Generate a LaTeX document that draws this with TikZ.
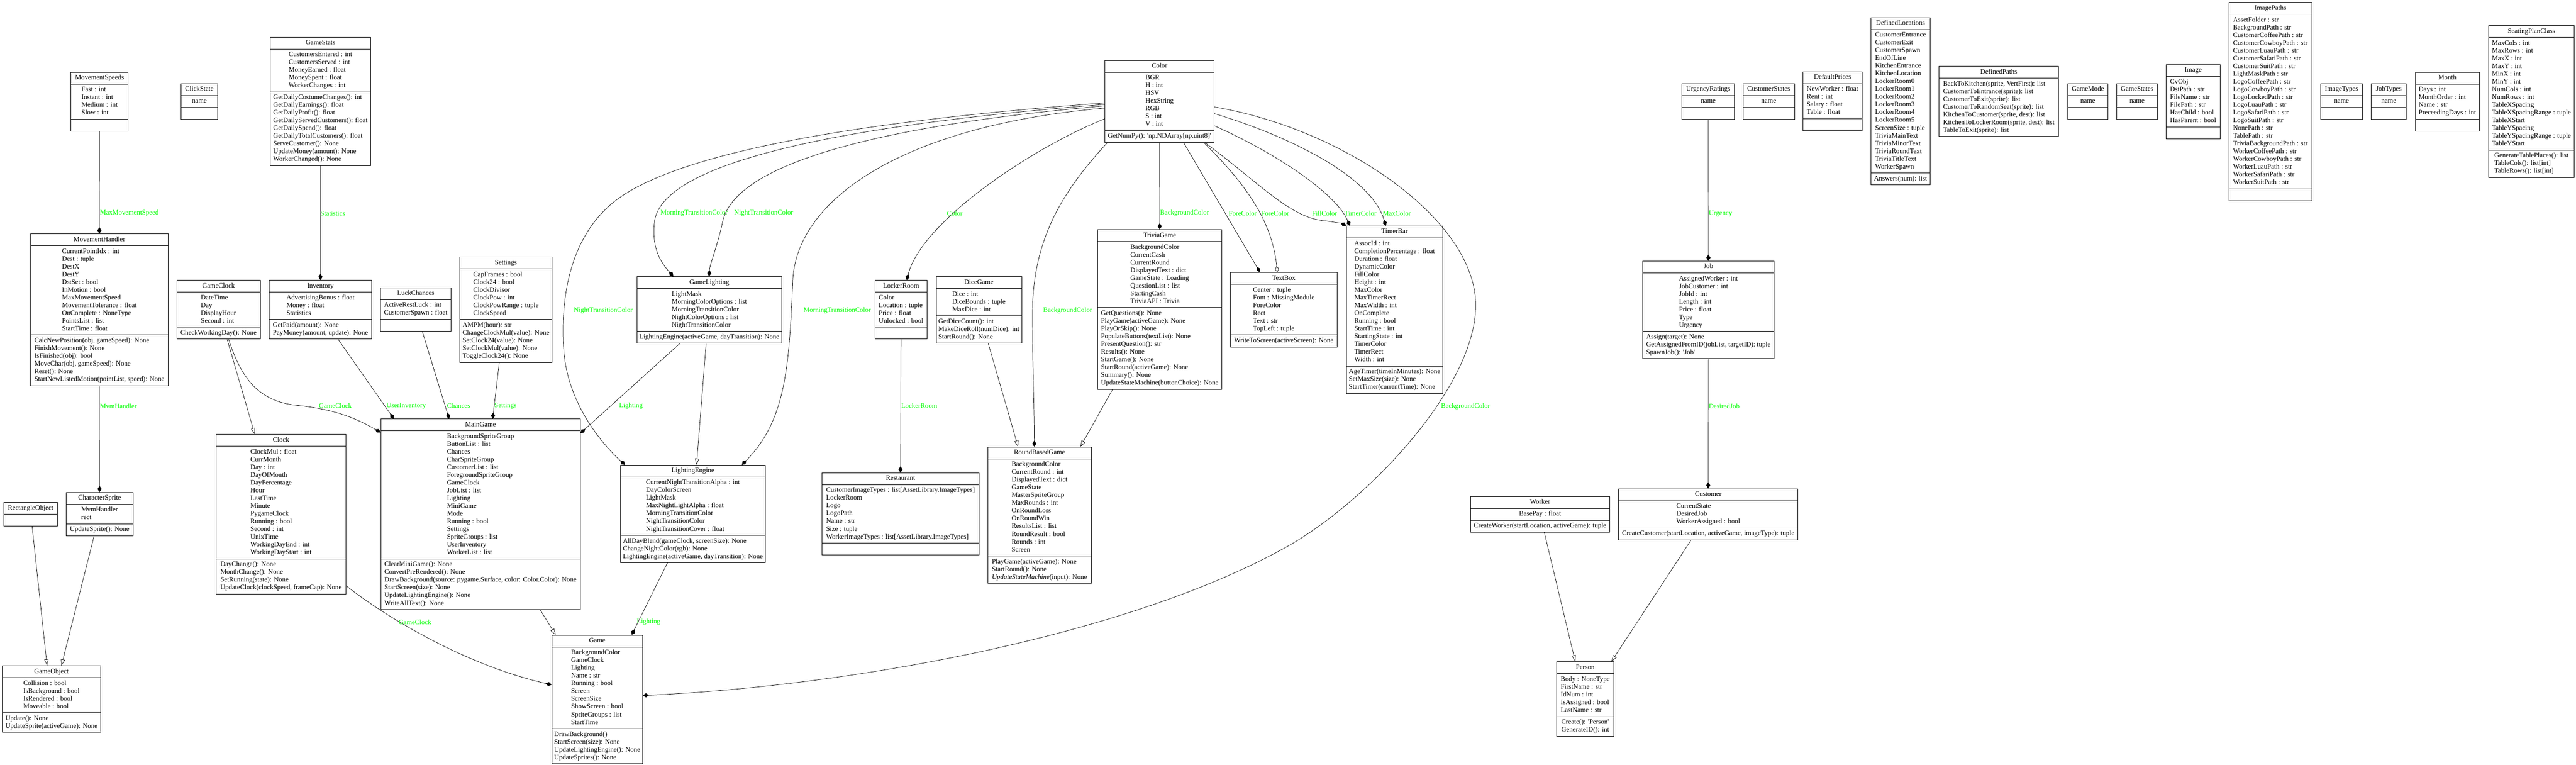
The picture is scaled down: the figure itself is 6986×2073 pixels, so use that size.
\documentclass[tikz,border=0pt]{standalone}
\usepackage{fontspec}
\setmainfont{Liberation Serif}
\usetikzlibrary{arrows.meta,calc,shapes.multipart}
\definecolor{labelgreen}{RGB}{0,255,0}
\newcommand\classfont{\fontsize{18.5}{21}\selectfont}
\newcommand\hdr[1]{\classfont\strut#1}
\newcommand\members[1]{\classfont\begin{tabular}{@{}l@{}}#1\end{tabular}}
\newcommand\emptypart{\classfont\strut}
\tikzset{
  umlclass/.style={draw,line width=1.2pt,rectangle split,rectangle split parts=3,
    anchor=north west,inner xsep=2pt,inner ysep=5pt},
  umlshort/.style={umlclass,rectangle split parts=2},
  edgelabel/.style={anchor=west,inner sep=0pt,text=labelgreen,font=\classfont},
  composition/.style={-{Diamond[length=17pt,width=11pt]},line width=1pt},
  aggregation/.style={-{Diamond[open,length=17pt,width=11pt]},line width=1pt},
  inherit/.style={-{Triangle[open,length=17pt,width=11pt]},line width=1pt}
}

\begin{document}
\begin{tikzpicture}[x=1pt,y=-1pt]
  \useasboundingbox (0,0) rectangle (6986,2073);
  % movement and sprites
  \node[umlclass,minimum width=155pt] (MovementSpeeds) at (192,195)
    {\hdr{MovementSpeeds}\nodepart{two}\members{Fast : int\\Instant : int\\Medium : int\\Slow : int}\nodepart{three}\emptypart};
  \node[umlclass,minimum width=98pt] (ClickState) at (491,226)
    {\hdr{ClickState}\nodepart{two}\members{name}\nodepart{three}\emptypart};
  \node[umlclass,minimum width=372pt] (MovementHandler) at (83,633)
    {\hdr{MovementHandler}\nodepart{two}\members{CurrentPointIdx : int\\Dest : tuple\\DestX\\DestY\\DstSet : bool\\InMotion : bool\\MaxMovementSpeed\\MovementTolerance : float\\OnComplete : NoneType\\PointsList : list\\StartTime : float}
     \nodepart{three}\members{CalcNewPosition(obj, gameSpeed): None\\FinishMovement(): None\\IsFinished(obj): bool\\MoveChar(obj, gameSpeed): None\\Reset(): None\\StartNewListedMotion(pointList, speed): None}};
  \node[umlclass,minimum width=181pt] (CharacterSprite) at (179,1334)
    {\hdr{CharacterSprite}\nodepart{two}\members{MvmHandler\\rect}\nodepart{three}\members{UpdateSprite(): None}};
  \node[umlshort,minimum width=145pt] (RectangleObject) at (10,1361)
    {\hdr{RectangleObject}\nodepart{two}\emptypart};
  \node[umlclass,minimum width=268pt] (GameObject) at (5,1804)
    {\hdr{GameObject}\nodepart{two}\members{Collision : bool\\IsBackground : bool\\IsRendered : bool\\Moveable : bool}
     \nodepart{three}\members{Update(): None\\UpdateSprite(activeGame): None}};
  % clock, stats and main game
  \node[umlclass,minimum width=226pt] (GameClock) at (479,759)
    {\hdr{GameClock}\nodepart{two}\members{DateTime\\Day\\DisplayHour\\Second : int}\nodepart{three}\members{CheckWorkingDay(): None}};
  \node[umlclass,minimum width=273pt] (GameStats) at (732,100)
    {\hdr{GameStats}\nodepart{two}\members{CustomersEntered : int\\CustomersServed : int\\MoneyEarned : float\\MoneySpent : float\\WorkerChanges : int}
     \nodepart{three}\members{GetDailyCostumeChanges(): int\\GetDailyEarnings(): float\\GetDailyProfit(): float\\GetDailyServedCustomers(): float\\GetDailySpend(): float\\GetDailyTotalCustomers(): float\\ServeCustomer(): None\\UpdateMoney(amount): None\\WorkerChanged(): None}};
  \node[umlclass,minimum width=277pt] (Inventory) at (730,759)
    {\hdr{Inventory}\nodepart{two}\members{AdvertisingBonus : float\\Money : float\\Statistics}
     \nodepart{three}\members{GetPaid(amount): None\\PayMoney(amount, update): None}};
  \node[umlclass,minimum width=192pt] (LuckChances) at (1031,779)
    {\hdr{LuckChances}\nodepart{two}\members{ActiveRestLuck : int\\CustomerSpawn : float}\nodepart{three}\emptypart};
  \node[umlclass,minimum width=251pt] (Settings) at (1246,696)
    {\hdr{Settings}\nodepart{two}\members{CapFrames : bool\\Clock24 : bool\\ClockDivisor\\ClockPow : int\\ClockPowRange : tuple\\ClockSpeed}
     \nodepart{three}\members{AMPM(hour): str\\ChangeClockMul(value): None\\SetClock24(value): None\\SetClockMul(value): None\\ToggleClock24(): None}};
  \node[umlclass,minimum width=353pt] (Clock) at (585,1177)
    {\hdr{Clock}\nodepart{two}\members{ClockMul : float\\CurrMonth\\Day : int\\DayOfMonth\\DayPercentage\\Hour\\LastTime\\Minute\\PygameClock\\Running : bool\\Second : int\\UnixTime\\WorkingDayEnd : int\\WorkingDayStart : int}
     \nodepart{three}\members{DayChange(): None\\MonthChange(): None\\SetRunning(state): None\\UpdateClock(clockSpeed, frameCap): None}};
  \node[umlclass,minimum width=541pt] (MainGame) at (1032,1135)
    {\hdr{MainGame}\nodepart{two}\members{BackgroundSpriteGroup\\ButtonList : list\\Chances\\CharSpriteGroup\\CustomerList : list\\ForegroundSpriteGroup\\GameClock\\JobList : list\\Lighting\\MiniGame\\Mode\\Running : bool\\Settings\\SpriteGroups : list\\UserInventory\\WorkerList : list}
     \nodepart{three}\members{ClearMiniGame(): None\\ConvertPreRendered(): None\\DrawBackground(source: pygame.Surface, color: Color.Color): None\\StartScreen(size): None\\UpdateLightingEngine(): None\\WriteAllText(): None}};
  \node[umlclass,minimum width=246pt] (Game) at (1496,1721)
    {\hdr{Game}\nodepart{two}\members{BackgroundColor\\GameClock\\Lighting\\Name : str\\Running : bool\\Screen\\ScreenSize\\ShowScreen : bool\\SpriteGroups : list\\StartTime}
     \nodepart{three}\members{DrawBackground()\\StartScreen(size): None\\UpdateLightingEngine(): None\\UpdateSprites(): None}};
  % lighting, rooms and mini games
  \node[umlclass,minimum width=392pt] (GameLighting) at (1727,749)
    {\hdr{GameLighting}\nodepart{two}\members{LightMask\\MorningColorOptions : list\\MorningTransitionColor\\NightColorOptions : list\\NightTransitionColor}
     \nodepart{three}\members{LightingEngine(activeGame, dayTransition): None}};
  \node[umlclass,minimum width=393pt] (LightingEngine) at (1682,1260)
    {\hdr{LightingEngine}\nodepart{two}\members{CurrentNightTransitionAlpha : int\\DayColorScreen\\LightMask\\MaxNightLightAlpha : float\\MorningTransitionColor\\NightTransitionColor\\NightTransitionCover : float}
     \nodepart{three}\members{AllDayBlend(gameClock, screenSize): None\\ChangeNightColor(rgb): None\\LightingEngine(activeGame, dayTransition): None}};
  \node[umlclass,minimum width=142pt] (LockerRoom) at (2372,759)
    {\hdr{LockerRoom}\nodepart{two}\members{Color\\Location : tuple\\Price : float\\Unlocked : bool}\nodepart{three}\emptypart};
  \node[umlclass,minimum width=232pt] (DiceGame) at (2538,749)
    {\hdr{DiceGame}\nodepart{two}\members{Dice : int\\DiceBounds : tuple\\MaxDice : int}
     \nodepart{three}\members{GetDiceCount(): int\\MakeDiceRoll(numDice): int\\StartRound(): None}};
  \node[umlclass,minimum width=427pt] (Restaurant) at (2228,1281)
    {\hdr{Restaurant}\nodepart{two}\members{CustomerImageTypes : list[AssetLibrary.ImageTypes]\\LockerRoom\\Logo\\LogoPath\\Name : str\\Size : tuple\\WorkerImageTypes : list[AssetLibrary.ImageTypes]}
     \nodepart{three}\emptypart};
  \node[umlclass,minimum width=296pt] (Color) at (2996,163)
    {\hdr{Color}\nodepart{two}\members{BGR\\H : int\\HSV\\HexString\\RGB\\S : int\\V : int}
     \nodepart{three}\members{GetNumPy(): \textquotesingle np.NDArray[np.uint8]\textquotesingle}};
  \node[umlclass,minimum width=337pt] (TriviaGame) at (2976,622)
    {\hdr{TriviaGame}\nodepart{two}\members{BackgroundColor\\CurrentCash\\CurrentRound\\DisplayedText : dict\\GameState : Loading\\QuestionList : list\\StartingCash\\TriviaAPI : Trivia}
     \nodepart{three}\members{GetQuestions(): None\\PlayGame(activeGame): None\\PlayOrSkip(): None\\PopulateButtons(textList): None\\PresentQuestion(): str\\Results(): None\\StartGame(): None\\StartRound(activeGame): None\\Summary(): None\\UpdateStateMachine(buttonChoice): None}};
  \node[umlclass,minimum width=290pt] (TextBox) at (3336,738)
    {\hdr{TextBox}\nodepart{two}\members{Center : tuple\\Font : MissingModule\\ForeColor\\Rect\\Text : str\\TopLeft : tuple}
     \nodepart{three}\members{WriteToScreen(activeScreen): None}};
  \node[umlclass,minimum width=261pt] (TimerBar) at (3651,612)
    {\hdr{TimerBar}\nodepart{two}\members{AssocId : int\\CompletionPercentage : float\\Duration : float\\DynamicColor\\FillColor\\Height : int\\MaxColor\\MaxTimerRect\\MaxWidth : int\\OnComplete\\Running : bool\\StartTime : int\\StartingState : int\\TimerColor\\TimerRect\\Width : int}
     \nodepart{three}\members{AgeTimer(timeInMinutes): None\\SetMaxSize(size): None\\StartTimer(currentTime): None}};
  \node[umlclass,minimum width=281pt] (RoundBasedGame) at (2678,1211)
    {\hdr{RoundBasedGame}\nodepart{two}\members{BackgroundColor\\CurrentRound : int\\DisplayedText : dict\\GameState\\MasterSpriteGroup\\MaxRounds : int\\OnRoundLoss\\OnRoundWin\\ResultsList : list\\RoundResult : bool\\Rounds : int\\Screen}
     \nodepart{three}\members{PlayGame(activeGame): None\\StartRound(): None\\\textit{UpdateStateMachine}(input): None}};
  % enums and constants
  \node[umlclass,minimum width=142pt] (UrgencyRatings) at (4561,226)
    {\hdr{UrgencyRatings}\nodepart{two}\members{name}\nodepart{three}\emptypart};
  \node[umlclass,minimum width=140pt] (CustomerStates) at (4726,226)
    {\hdr{CustomerStates}\nodepart{two}\members{name}\nodepart{three}\emptypart};
  \node[umlclass,minimum width=160pt] (DefaultPrices) at (4889,194)
    {\hdr{DefaultPrices}\nodepart{two}\members{NewWorker : float\\Rent : int\\Salary : float\\Table : float}\nodepart{three}\emptypart};
  \node[umlclass,minimum width=161pt] (DefinedLocations) at (5073,47)
    {\hdr{DefinedLocations}\nodepart{two}\members{CustomerEntrance\\CustomerExit\\CustomerSpawn\\EndOfLine\\KitchenEntrance\\KitchenLocation\\LockerRoom0\\LockerRoom1\\LockerRoom2\\LockerRoom3\\LockerRoom4\\LockerRoom5\\ScreenSize : tuple\\TriviaMainText\\TriviaMinorText\\TriviaRoundText\\TriviaTitleText\\WorkerSpawn}
     \nodepart{three}\members{Answers(num): list}};
  \node[umlshort,minimum width=324pt] (DefinedPaths) at (5258,179)
    {\hdr{DefinedPaths}\nodepart{two}\members{BackToKitchen(sprite, VertFirst): list\\CustomerToEntrance(sprite): list\\CustomerToExit(sprite): list\\CustomerToRandomSeat(sprite): list\\KitchenToCustomer(sprite, dest): list\\KitchenToLockerRoom(sprite, dest): list\\TableToExit(sprite): list}};
  \node[umlclass,minimum width=109pt] (GameMode) at (5607,226)
    {\hdr{GameMode}\nodepart{two}\members{name}\nodepart{three}\emptypart};
  \node[umlclass,minimum width=110pt] (GameStates) at (5740,226)
    {\hdr{GameStates}\nodepart{two}\members{name}\nodepart{three}\emptypart};
  \node[umlclass,minimum width=146pt] (Image) at (5874,174)
    {\hdr{Image}\nodepart{two}\members{CvObj\\DstPath : str\\FileName : str\\FilePath : str\\HasChild : bool\\HasParent : bool}\nodepart{three}\emptypart};
  \node[umlclass,minimum width=225pt] (ImagePaths) at (6044,6)
    {\hdr{ImagePaths}\nodepart{two}\members{AssetFolder : str\\BackgroundPath : str\\CustomerCoffeePath : str\\CustomerCowboyPath : str\\CustomerLuauPath : str\\CustomerSafariPath : str\\CustomerSuitPath : str\\LightMaskPath : str\\LogoCoffeePath : str\\LogoCowboyPath : str\\LogoLockedPath : str\\LogoLuauPath : str\\LogoSafariPath : str\\LogoSuitPath : str\\NonePath : str\\TablePath : str\\TriviaBackgroundPath : str\\WorkerCoffeePath : str\\WorkerCowboyPath : str\\WorkerLuauPath : str\\WorkerSafariPath : str\\WorkerSuitPath : str}
     \nodepart{three}\emptypart};
  \node[umlclass,minimum width=113pt] (ImageTypes) at (6293,226)
    {\hdr{ImageTypes}\nodepart{two}\members{name}\nodepart{three}\emptypart};
  \node[umlclass,minimum width=95pt] (JobTypes) at (6430,226)
    {\hdr{JobTypes}\nodepart{two}\members{name}\nodepart{three}\emptypart};
  \node[umlclass,minimum width=173pt] (Month) at (6550,195)
    {\hdr{Month}\nodepart{two}\members{Days : int\\MonthOrder : int\\Name : str\\PreceedingDays : int}\nodepart{three}\emptypart};
  \node[umlclass,minimum width=233pt] (SeatingPlanClass) at (6748,69)
    {\hdr{SeatingPlanClass}\nodepart{two}\members{MaxCols : int\\MaxRows : int\\MaxX : int\\MaxY : int\\MinX : int\\MinY : int\\NumCols : int\\NumRows : int\\TableXSpacing\\TableXSpacingRange : tuple\\TableXStart\\TableYSpacing\\TableYSpacingRange : tuple\\TableYStart}
     \nodepart{three}\members{GenerateTablePlaces(): list\\TableCols(): list[int]\\TableRows(): list[int]}};
  % jobs and people
  \node[umlclass,minimum width=357pt] (Job) at (4454,707)
    {\hdr{Job}\nodepart{two}\members{AssignedWorker : int\\JobCustomer : int\\JobId : int\\Length : int\\Price : float\\Type\\Urgency}
     \nodepart{three}\members{Assign(target): None\\GetAssignedFromID(jobList, targetID): tuple\\SpawnJob(): \textquotesingle Job\textquotesingle}};
  \node[umlclass,minimum width=486pt] (Customer) at (4389,1324)
    {\hdr{Customer}\nodepart{two}\members{CurrentState\\DesiredJob\\WorkerAssigned : bool}
     \nodepart{three}\members{CreateCustomer(startLocation, activeGame, imageType): tuple}};
  \node[umlclass,minimum width=378pt] (Worker) at (3987,1345)
    {\hdr{Worker}\nodepart{two}\members{BasePay : float}\nodepart{three}\members{CreateWorker(startLocation, activeGame): tuple}};
  \node[umlclass,minimum width=155pt] (Person) at (4221,1793)
    {\hdr{Person}\nodepart{two}\members{Body : NoneType\\FirstName : str\\IdNum : int\\IsAssigned : bool\\LastName : str}
     \nodepart{three}\members{Create(): \textquotesingle Person\textquotesingle\\GenerateID(): int}};

  % connectors, left part
  \draw[composition] (MovementSpeeds.south) -- (MovementHandler.north);
  \draw[composition] (MovementHandler.south) -- (CharacterSprite.north);
  \draw[inherit] ($(RectangleObject.south)+(4,0)$) -- ($(GameObject.north)+(-12,0)$);
  \draw[inherit] ($(CharacterSprite.south)+(-15,0)$) -- ($(GameObject.north)+(27,0)$);
  \draw[composition] (GameStats.south) -- (Inventory.north);
  \draw[inherit] ($(GameClock.south west)+(137,0)$) -- ($(Clock.north west)+(106,0)$);
  \draw[composition] ($(GameClock.south west)+(141,0)$) .. controls (650,1010) and (690,1085) .. (800,1098)
    .. controls (900,1108) and (960,1130) .. ($(MainGame.north west)+(0,37)$);
  \draw[composition] ($(Inventory.south west)+(187,0)$) -- ($(MainGame.north west)+(36,0)$);
  \draw[composition] ($(LuckChances.south west)+(114,0)$) -- ($(MainGame.north west)+(186,0)$);
  \draw[composition] ($(Settings.south west)+(108,0)$) -- ($(MainGame.north west)+(304,0)$);
  \draw[composition] ($(GameLighting.south west)+(117,0)$) -- ($(MainGame.north east)+(0,39)$);
  \draw[inherit] ($(GameLighting.south west)+(188,0)$) -- ($(LightingEngine.north west)+(207,0)$);
  \draw[inherit] ($(MainGame.south west)+(433,0)$) -- ($(Game.north west)+(11,0)$);
  \draw[composition] ($(Clock.north east)+(0,411)$) .. controls (1030,1660) and (1250,1800) .. ($(Game.north west)+(0,135)$);
  \draw[composition] ($(LightingEngine.south west)+(128,0)$) -- ($(Game.north west)+(217,0)$);
  % connectors from Color
  \draw[composition] ($(Color.north east)+(0,127)$) .. controls (3650,350) and (4005,600) .. (4002,830)
    .. controls (4000,1050) and (3710,1357) .. (3493,1480)
    .. controls (3058,1725) and (2300,1860) .. ($(Game.north east)+(0,164)$);
  \draw[composition] ($(Color.north west)+(0,120)$) .. controls (2400,330) and (1800,420) .. (1775,600)
    .. controls (1765,680) and (1800,720) .. ($(GameLighting.north west)+(99,0)$);
  \draw[composition] ($(Color.north west)+(0,124)$) .. controls (2500,330) and (2000,420) .. (1960,600)
    .. controls (1945,670) and (1925,715) .. ($(GameLighting.north west)+(196,0)$);
  \draw[composition] ($(Color.north west)+(0,130)$) .. controls (2450,340) and (2160,540) .. (2150,760)
    .. controls (2140,1000) and (2130,1140) .. ($(LightingEngine.north west)+(330,0)$);
  \draw[composition] ($(Color.north west)+(0,116)$) .. controls (2300,330) and (1800,420) .. (1650,560)
    .. controls (1540,660) and (1520,820) .. (1529,950)
    .. controls (1540,1100) and (1640,1210) .. ($(LightingEngine.north west)+(13,0)$);
  \draw[composition] ($(Color.north west)+(0,159)$) .. controls (2800,400) and (2500,600) .. ($(LockerRoom.north west)+(87,0)$);
  \draw[composition] (LockerRoom.south) -- (Restaurant.north);
  \draw[inherit] ($(DiceGame.south west)+(142,0)$) -- ($(RoundBasedGame.north west)+(83,0)$);
  \draw[inherit] ($(TriviaGame.south west)+(41,0)$) -- ($(RoundBasedGame.north west)+(252,0)$);
  \draw[composition] ($(Color.south west)+(7,0)$) .. controls (2880,520) and (2800,650) .. (2800,850)
    .. controls (2800,1000) and (2805,1100) .. ($(RoundBasedGame.north west)+(127,0)$);
  \draw[composition] (Color.south) -- (TriviaGame.north);
  \draw[composition] ($(Color.south west)+(214,0)$) -- ($(TextBox.north west)+(81,0)$);
  \draw[aggregation] ($(Color.south west)+(269,0)$) .. controls (3380,500) and (3450,600) .. ($(TextBox.north west)+(128,0)$);
  \draw[composition] ($(Color.south west)+(272,0)$) .. controls (3420,500) and (3500,590) .. (3590,598)
    .. controls (3620,602) and (3640,606) .. (TimerBar.north west);
  \draw[composition] ($(Color.north east)+(0,178)$) .. controls (3450,410) and (3620,520) .. ($(TimerBar.north west)+(10,0)$);
  \draw[composition] ($(Color.north east)+(0,145)$) .. controls (3500,370) and (3720,480) .. ($(TimerBar.north west)+(107,0)$);
  % connectors, right part
  \draw[composition] (UrgencyRatings.south) -- (Job.north);
  \draw[composition] (Job.south) -- (Customer.north);
  \draw[inherit] ($(Worker.south west)+(201,0)$) -- ($(Person.north west)+(51,0)$);
  \draw[inherit] ($(Customer.south west)+(197,0)$) -- ($(Person.north west)+(149,0)$);

  % connector labels
  \node[edgelabel] (lMaxMovementSpeed) at (271,577) {MaxMovementSpeed};
  \node[edgelabel] (lMvmHandler) at (271,1101) {MvmHandler};
  \node[edgelabel] (lStatistics) at (869,578) {Statistics};
  \node[edgelabel] (lGameClockMain) at (865,1100) {GameClock};
  \node[edgelabel] (lUserInventory) at (1048,1100) {UserInventory};
  \node[edgelabel] (lChances) at (1212,1100) {Chances};
  \node[edgelabel] (lSettings) at (1341,1100) {Settings};
  \node[edgelabel] (lLightingMain) at (1679,1100) {Lighting};
  \node[edgelabel] (lGameClockGame) at (1081,1686) {GameClock};
  \node[edgelabel] (lLightingGame) at (1727,1686) {Lighting};
  \node[edgelabel] (lMorningLighting) at (1791,578) {MorningTransitionColor};
  \node[edgelabel] (lNightLighting) at (1991,578) {NightTransitionColor};
  \node[edgelabel] (lNightEngine) at (1556,841) {NightTransitionColor};
  \node[edgelabel] (lMorningEngine) at (2179,841) {MorningTransitionColor};
  \node[edgelabel] (lColor) at (2568,578) {Color};
  \node[edgelabel] (lLockerRoom) at (2444,1100) {LockerRoom};
  \node[edgelabel] (lBackgroundRound) at (2829,841) {BackgroundColor};
  \node[edgelabel] (lBackgroundTrivia) at (3146,578) {BackgroundColor};
  \node[edgelabel] (lForeColorA) at (3332,578) {ForeColor};
  \node[edgelabel] (lForeColorB) at (3420,578) {ForeColor};
  \node[edgelabel] (lFillColor) at (3558,578) {FillColor};
  \node[edgelabel] (lTimerColor) at (3646,578) {TimerColor};
  \node[edgelabel] (lMaxColor) at (3750,578) {MaxColor};
  \node[edgelabel] (lBackgroundGame) at (3908,1101) {BackgroundColor};
  \node[edgelabel] (lUrgency) at (4634,579) {Urgency};
  \node[edgelabel] (lDesiredJob) at (4634,1101) {DesiredJob};
\end{tikzpicture}
\end{document}
